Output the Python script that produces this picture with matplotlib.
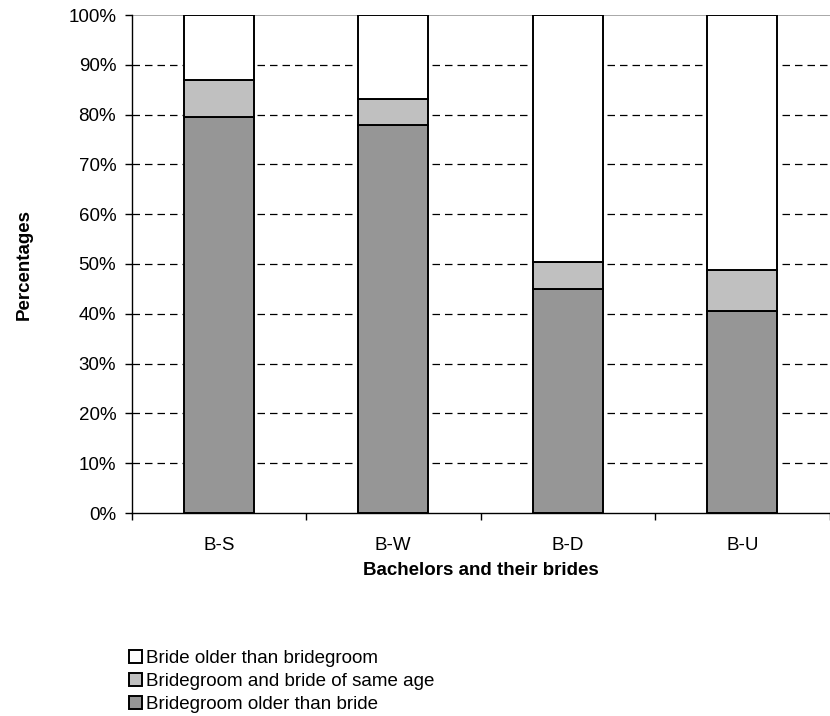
import matplotlib
matplotlib.use("Agg")
import matplotlib.pyplot as plt
from matplotlib.patches import Patch
import numpy as np

categories = ["B-S", "B-W", "B-D", "B-U"]
groom_older = [79.6, 77.9, 45.0, 40.6]
same_age = [7.3, 5.3, 5.4, 8.1]
bride_older = [13.1, 16.8, 49.6, 51.3]
series_labels = ["Bride older than bridegroom",
                 "Bridegroom and bride of same age",
                 "Bridegroom older than bride"]
yticks = [0, 10, 20, 30, 40, 50, 60, 70, 80, 90, 100]

plt.rcParams['font.family'] = ['Liberation Sans', 'DejaVu Sans']
FS = 13.5

fig = plt.figure(figsize=(8.3, 7.16), dpi=100)
ax = fig.add_axes([131.5/830, 1-513/716, 698/830, 498/716])

x = np.arange(len(categories))
w = 0.40
ec = 'black'
lw = 1.4
ax.bar(x, groom_older, w, color='#969696', edgecolor=ec, linewidth=lw, zorder=3)
ax.bar(x, same_age, w, bottom=groom_older, color='#C0C0C0', edgecolor=ec, linewidth=lw, zorder=3)
bot3 = np.array(groom_older) + np.array(same_age)
ax.bar(x, bride_older, w, bottom=bot3, color='white', edgecolor=ec, linewidth=lw, zorder=3)

ax.set_xlim(-0.5, len(categories) - 0.5)
ax.set_ylim(0, 100)
ax.set_yticks(yticks)
ax.set_yticklabels([f"{v}%" for v in yticks], fontsize=FS)
for v in yticks[1:-1]:
    ax.axhline(v, color='black', lw=0.9, ls=(0, (6, 4)), zorder=1)
ax.axhline(100, color='#999999', lw=1.2, zorder=1)

ax.set_xticks(np.arange(-0.5, len(categories), 1.0))
ax.set_xticklabels([])
ax.set_xticks(x, minor=True)
ax.set_xticklabels(categories, minor=True, fontsize=FS)
ax.tick_params(axis='x', which='minor', length=0, pad=17)
ax.tick_params(axis='x', which='major', length=5, width=1, direction='out')
ax.tick_params(axis='y', length=5, width=1, direction='out', pad=6)

for s in ['top', 'right']:
    ax.spines[s].set_visible(False)
for s in ['left', 'bottom']:
    ax.spines[s].set_linewidth(1)

ax.set_xlabel("Bachelors and their brides", fontsize=FS, fontweight='bold')
ax.xaxis.set_label_coords(0.5, (513 - 562) / 498)
ax.set_ylabel("Percentages", fontsize=FS, fontweight='bold')
ax.yaxis.set_label_coords((33 - 131.5) / 698, 0.5)

handles = [Patch(facecolor='white', edgecolor='black', linewidth=1.4),
           Patch(facecolor='#C0C0C0', edgecolor='black', linewidth=1.4),
           Patch(facecolor='#969696', edgecolor='black', linewidth=1.4)]
fig.legend(handles, series_labels, loc='upper left',
           bbox_to_anchor=(129/830, 1-649.5/716), frameon=False,
           fontsize=FS, handlelength=0.7, handleheight=0.7,
           handletextpad=0.2, labelspacing=0.32, borderaxespad=0,
           borderpad=0)

fig.savefig("out.png", dpi=100)
